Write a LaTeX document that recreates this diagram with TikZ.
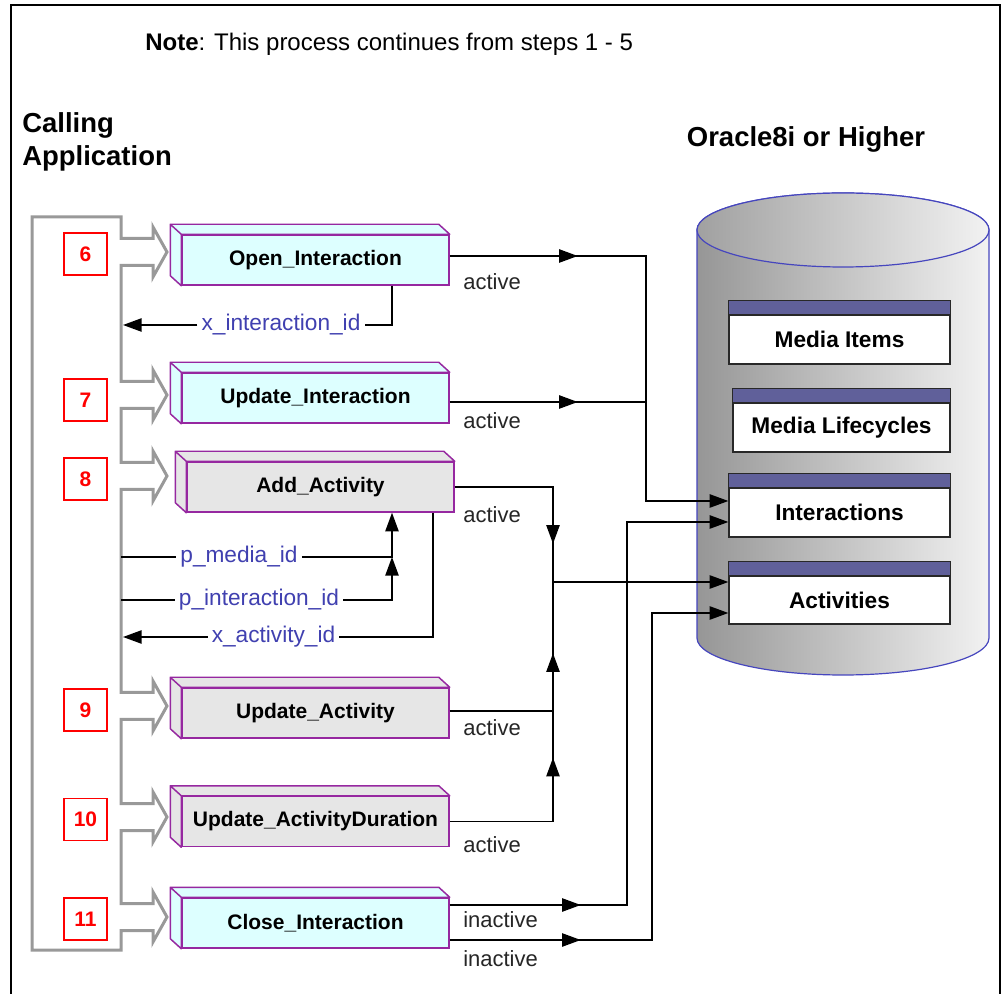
\documentclass[tikz,border=0pt]{standalone}
\usepackage{fontspec}
\setmainfont{Liberation Sans}
\usetikzlibrary{arrows.meta,decorations.markings}

\definecolor{stepgray}{RGB}{153,153,153}
\definecolor{stepred}{RGB}{255,0,0}
\definecolor{boxedge}{RGB}{150,40,160}
\definecolor{cyanface}{RGB}{221,255,255}
\definecolor{grayface}{RGB}{230,230,230}
\definecolor{paramblue}{RGB}{64,64,176}
\definecolor{headblue}{RGB}{96,96,154}
\definecolor{dbedge}{RGB}{70,70,190}
\definecolor{dbdark}{RGB}{150,150,150}
\definecolor{dblight}{RGB}{242,242,242}
\definecolor{tabedge}{RGB}{40,40,40}

\begin{document}
\begin{tikzpicture}[x=0.75pt, y=-0.75pt,
  >={Triangle[length=14pt,width=10pt]},
  conn/.style={line width=1.1pt, draw=black},
  midarrow/.style={postaction={decorate,decoration={markings,mark=at position #1 with {\arrow{>}}}}},
  callbox/.style={draw=boxedge, line width=1.1pt, minimum width=200.25pt, minimum height=37.5pt,
    inner sep=0pt, font=\fontsize{15.75}{18}\selectfont\bfseries},
  stepnum/.style={draw=stepred, line width=1.1pt, fill=white, text=stepred, minimum width=32.25pt,
    minimum height=31.5pt, inner sep=0pt, font=\fontsize{15.75}{18}\selectfont\bfseries},
  param/.style={text=paramblue, font=\fontsize{17}{20}\selectfont, text height=12.7pt,
    text depth=3.7pt, inner sep=3pt},
  statelbl/.style={anchor=base west, inner sep=0pt, font=\fontsize{16.5}{20}\selectfont, text=black!85},
  tablebody/.style={draw=tabedge, fill=white, line width=1pt, minimum height=36.75pt, inner sep=0pt,
    font=\fontsize{17}{20}\selectfont\bfseries},
  title/.style={inner sep=0pt, font=\fontsize{20.6}{24.75}\selectfont\bfseries}
]
\useasboundingbox (0,0) rectangle (1004,994);
\fill[white] (0,0) rectangle (1004,994);

% frame
\draw[line width=1.5pt] (11,994) -- (11,5) -- (1000,5) -- (1000,994);

% headings
\node[anchor=base west, inner sep=0pt, font=\fontsize{18}{21}\selectfont] (note) at (145,51)
  {\textbf{Note}: This process continues from steps 1 - 5};
\node[title, anchor=north west, align=left] (app) at (22,112) {Calling\\Application};
\node[title, anchor=base] (oracle) at (806,147) {Oracle8i or Higher};

% database cylinder
\shadedraw[left color=dbdark, right color=dblight, draw=dbedge, line width=0.9pt]
  (697,230) -- (697,638) arc[start angle=180, end angle=360, x radius=109.5pt, y radius=27.75pt]
  -- (989,230) arc[start angle=0, end angle=180, x radius=109.5pt, y radius=27.75pt] -- cycle;
\shadedraw[left color=dbdark!90!white, right color=dblight, draw=dbedge, line width=0.9pt]
  (843,230) ellipse [x radius=109.5pt, y radius=27.75pt];

% tables
\node[tablebody, minimum width=165.75pt] (mi) at (839.5,339.5) {Media Items};
\node[tablebody, minimum width=162.75pt] (ml) at (841.5,427.5) {Media Lifecycles};
\node[tablebody, minimum width=165.75pt] (ia) at (839.5,512.5) {Interactions};
\node[tablebody, minimum width=165.75pt, minimum height=36pt] (ac) at (839.5,600) {Activities};
\foreach \t in {mi,ml,ia,ac}
  \filldraw[fill=headblue, draw=tabedge, line width=1pt] (\t.north west) rectangle ([yshift=10.5pt]\t.north east);

% step sequence: chain of hollow arrows
\draw[stepgray, line width=2.25pt, line join=miter]
  (32,217) -- (121,217)
  \foreach \c in {252,395,476,706,817,917} {
    -- (121,\c-13.5) -- (153,\c-13.5) -- (153,\c-25) -- (167,\c) -- (153,\c+25)
    -- (153,\c+13.5) -- (121,\c+13.5) }
  -- (121,950) -- (32,950) -- cycle;

% step numbers
\node[stepnum] (s6) at (85.5,254) {6};
\node[stepnum] (s7) at (85.5,400) {7};
\node[stepnum] (s8) at (85.5,479) {8};
\node[stepnum] (s9) at (85.5,710) {9};
\node[stepnum] (s10) at (85.5,819.5) {10};
\node[stepnum] (s11) at (85.5,919) {11};

% API calls
\node[callbox, fill=cyanface] (open) at (315.5,260) {Open\_Interaction};
\node[callbox, fill=cyanface] (updint) at (315.5,398) {Update\_Interaction};
\node[callbox, fill=grayface] (addact) at (320.5,487) {Add\_Activity};
\node[callbox, fill=grayface] (updact) at (315.5,713) {Update\_Activity};
\node[callbox, fill=grayface] (upddur) at (315.5,821.5) {Update\_ActivityDuration};
\node[callbox, fill=cyanface] (closeint) at (315.5,923) {Close\_Interaction};
\foreach \n/\f in {open/cyanface, updint/cyanface, addact/grayface, updact/grayface,
                   upddur/grayface, closeint/cyanface} {
  \filldraw[fill=\f, draw=boxedge, line width=1.1pt, line join=round]
    (\n.north west) -- ([shift={(-11,-10)}]\n.north west) -- ([shift={(-11,-10)}]\n.north east)
      -- (\n.north east) -- cycle
    (\n.north west) -- ([shift={(-11,-10)}]\n.north west) -- ([shift={(-11,-10)}]\n.south west)
      -- (\n.south west) -- cycle;
}

% bus lines
\coordinate (bus) at (121,0);
\coordinate (pbus) at (392,0);
\coordinate (abus) at (433,0);
\coordinate (actbus) at (553,0);
\coordinate (cbusA) at (627,0);
\coordinate (ibus) at (646,0);
\coordinate (cbusB) at (652,0);

% table entry points
\coordinate (ia1) at ([yshift=8.625pt]ia.west);
\coordinate (ia2) at ([yshift=-7.125pt]ia.west);
\coordinate (ac1) at ([yshift=13.5pt]ac.west);
\coordinate (ac2) at ([yshift=-9.75pt]ac.west);

% call outputs
\coordinate (oiOut) at ([yshift=3pt]open.east);
\coordinate (uiOut) at ([yshift=-3pt]updint.east);
\coordinate (aaOut) at (addact.east);
\coordinate (uaOut) at ([yshift=1.5pt]updact.east);
\coordinate (udOut) at (upddur.east);
\coordinate (ciOutA) at ([yshift=13.5pt]closeint.east);
\coordinate (ciOutB) at ([yshift=-12.75pt]closeint.east);

% status flows into the database
\draw[conn, midarrow=96pt, ->] (oiOut) -| (ibus |- ia1) -- (ia1);
\draw[conn, midarrow=96pt] (uiOut) -- (uiOut -| ibus);
\draw[conn, midarrow=116.25pt, ->] (aaOut) -| (actbus |- ac1) -- (ac1);
\draw[conn, midarrow=120.75pt] (uaOut) -| (actbus |- ac1);
\draw[conn, midarrow=125.25pt] (udOut) -| (actbus |- uaOut);
\draw[conn, midarrow=98.25pt, ->] (ciOutA) -| (cbusA |- ia2) -- (ia2);
\draw[conn, midarrow=98.25pt, ->] (ciOutB) -| (cbusB |- ac2) -- (ac2);

\node[statelbl] (stOI) at (463,290) {active};
\node[statelbl] (stUI) at (463,429) {active};
\node[statelbl] (stAA) at (463,523) {active};
\node[statelbl] (stUA) at (463,736) {active};
\node[statelbl] (stUD) at (463,852) {active};
\node[statelbl] (stCA) at (463,927) {inactive};
\node[statelbl] (stCB) at (463,966) {inactive};

% parameters passed and returned
\node[param] (xint) at (281,325) {x\_interaction\_id};
\node[param] (pmed) at (239,557) {p\_media\_id};
\node[param] (pint) at (259,600) {p\_interaction\_id};
\node[param] (xact) at (273.5,637) {x\_activity\_id};

\draw[conn] (open.south -| pbus) |- (xint.east);
\draw[conn, ->, shorten >=1.5pt] (xint.west) -- (xint.west -| bus);
\draw[conn] (pmed.west -| bus) -- (pmed.west);
\draw[conn, ->] (pmed.east) -| (addact.south -| pbus);
\draw[conn] (pint.west -| bus) -- (pint.west);
\draw[conn, ->] (pint.east) -| (pmed.east -| pbus);
\draw[conn] (addact.south -| abus) |- (xact.east);
\draw[conn, ->, shorten >=1.5pt] (xact.west) -- (xact.west -| bus);
\end{tikzpicture}
\end{document}
